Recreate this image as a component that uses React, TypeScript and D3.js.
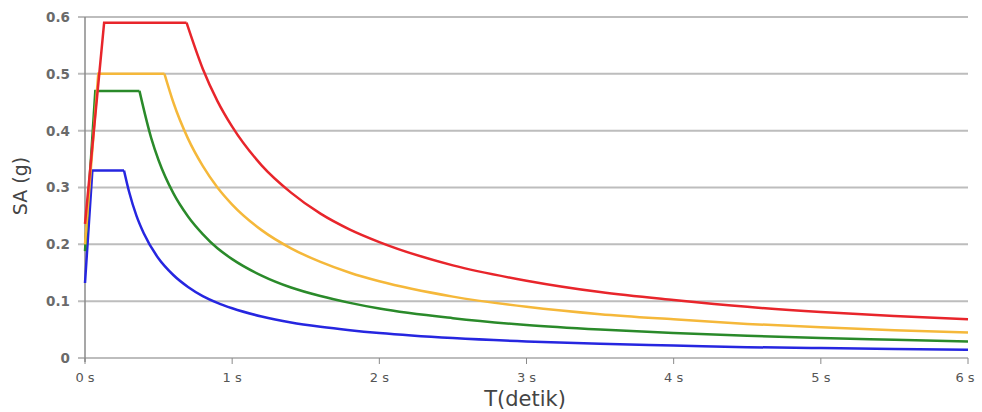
import React from "react";
import * as d3 from "d3";

const W = 982;
const H = 412;

const yTicks = [0, 0.1, 0.2, 0.3, 0.4, 0.5, 0.6];
const xTicks = [0, 1, 2, 3, 4, 5, 6];
const xTickLabels = ["0 s", "1 s", "2 s", "3 s", "4 s", "5 s", "6 s"];

// [T, SA]
const redSeries: [number, number][] = [
  [0, 0.236], [0.13, 0.59], [0.69, 0.59], [0.8, 0.509], [0.9, 0.452], [1.0, 0.407],
  [1.2, 0.339], [1.4, 0.291], [1.6, 0.254], [1.8, 0.226], [2.0, 0.204], [2.5, 0.163],
  [3.0, 0.136], [3.5, 0.116], [4.0, 0.102], [4.5, 0.09], [5.0, 0.081], [5.5, 0.074], [6.0, 0.068],
];
const yellowSeries: [number, number][] = [
  [0, 0.2], [0.09, 0.5], [0.54, 0.5], [0.6, 0.45], [0.7, 0.386], [0.8, 0.338], [0.9, 0.3],
  [1.0, 0.27], [1.2, 0.225], [1.4, 0.193], [1.6, 0.169], [1.8, 0.15], [2.0, 0.135],
  [2.5, 0.108], [3.0, 0.09], [3.5, 0.077], [4.0, 0.068], [4.5, 0.06], [5.0, 0.054], [5.5, 0.049], [6.0, 0.045],
];
const greenSeries: [number, number][] = [
  [0, 0.188], [0.07, 0.47], [0.37, 0.47], [0.45, 0.387], [0.5, 0.348], [0.6, 0.29], [0.7, 0.249],
  [0.8, 0.218], [0.9, 0.193], [1.0, 0.174], [1.2, 0.145], [1.4, 0.124], [1.6, 0.109], [1.8, 0.097],
  [2.0, 0.087], [2.5, 0.07], [3.0, 0.058], [3.5, 0.05], [4.0, 0.044], [4.5, 0.039], [5.0, 0.035], [5.5, 0.032], [6.0, 0.029],
];
const blueSeries: [number, number][] = [
  [0, 0.132], [0.05, 0.33], [0.265, 0.33], [0.3, 0.292], [0.35, 0.25], [0.4, 0.219], [0.5, 0.175],
  [0.6, 0.146], [0.7, 0.125], [0.8, 0.109], [0.9, 0.097], [1.0, 0.0875], [1.2, 0.073], [1.4, 0.0625],
  [1.6, 0.055], [1.8, 0.049], [2.0, 0.044], [2.5, 0.035], [3.0, 0.029], [3.5, 0.025], [4.0, 0.022],
  [4.5, 0.019], [5.0, 0.0175], [5.5, 0.016], [6.0, 0.0146],
];

const seriesList = [
  { data: blueSeries, color: "#2626e0" },
  { data: greenSeries, color: "#2a8a2a" },
  { data: yellowSeries, color: "#f5b83a" },
  { data: redSeries, color: "#e8252b" },
];

export default function App() {
  const x = d3.scaleLinear().domain([0, 6]).range([85, 968]);
  const y = d3.scaleLinear().domain([0, 0.6]).range([358, 17]);
  const linear = d3.line<[number, number]>().x((d) => x(d[0])).y((d) => y(d[1]));
  const smooth = d3
    .line<[number, number]>()
    .x((d) => x(d[0]))
    .y((d) => y(d[1]))
    .curve(d3.curveMonotoneX);
  const font = "'DejaVu Sans', Verdana, sans-serif";
  return (
    <div style={{ position: "absolute", left: 0, top: 0 }}>
      <svg width={W} height={H} style={{ display: "block", background: "#fff" }}>
        {yTicks.map((t) => (
          <g key={t}>
            <line x1={78} x2={968} y1={y(t)} y2={y(t)} stroke="#bdbdbd" strokeWidth={2} />
            <text
              x={70}
              y={y(t)}
              dy="0.36em"
              textAnchor="end"
              fontFamily={font}
              fontSize={13.5}
              fontWeight="bold"
              fill="#6a6a6a"
            >
              {t === 0 ? "0" : t.toFixed(1)}
            </text>
          </g>
        ))}
        <line x1={85} x2={85} y1={17} y2={362} stroke="#8a8a8a" strokeWidth={1.5} />
        {xTicks.map((t, i) => (
          <g key={t}>
            <line x1={x(t)} x2={x(t)} y1={358} y2={364} stroke="#8a8a8a" strokeWidth={1} />
            <text
              x={x(t) + (i === 6 ? -3 : 0)}
              y={382}
              textAnchor="middle"
              fontFamily={font}
              fontSize={13}
              fill="#555"
            >
              {xTickLabels[i]}
            </text>
          </g>
        ))}
        {seriesList.map((s, i) => (
          <g key={i} fill="none" stroke={s.color} strokeWidth={2.5} strokeLinejoin="miter">
            <path d={linear(s.data.slice(0, 3)) || ""} />
            <path d={smooth(s.data.slice(2)) || ""} />
          </g>
        ))}
        <text
          x={525}
          y={406}
          textAnchor="middle"
          fontFamily={font}
          fontSize={21}
          fill="#444"
        >
          T(detik)
        </text>
        <text
          transform="translate(27,186) rotate(-90)"
          textAnchor="middle"
          fontFamily={font}
          fontSize={19}
          fill="#444"
        >
          SA (g)
        </text>
      </svg>
    </div>
  );
}
